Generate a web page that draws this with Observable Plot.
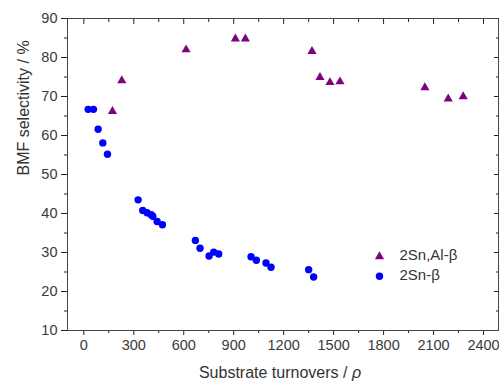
<!DOCTYPE html>
<html><head><meta charset="utf-8">
<script src="https://cdn.jsdelivr.net/npm/d3@7"></script>
<script src="https://cdn.jsdelivr.net/npm/@observablehq/plot@0.6"></script>
<style>body{margin:0;background:#fff}#chart svg{display:block}</style>
</head><body><div id="chart"></div>
<script>
// 2Sn,Al-β (triangles)
const alX = [172, 228, 614, 910, 970, 1370, 1418, 1478, 1538, 2048, 2188, 2278];
const alY = [66.2, 74.1, 82.0, 84.8, 84.8, 81.6, 74.9, 73.6, 73.8, 72.3, 69.4, 70.0];
// 2Sn-β (circles)
const snX = [26, 58, 86, 114, 142, 326, 354, 380, 404, 414, 440, 472, 670, 698, 752, 780, 810, 1004, 1036, 1094, 1124, 1350, 1380];
const snY = [66.7, 66.7, 61.6, 58.1, 55.2, 43.5, 40.8, 40.2, 39.7, 39.3, 37.95, 37.1, 33.1, 31.1, 29.1, 30.1, 29.6, 28.9, 28.0, 27.3, 26.2, 25.6, 23.7];
const seriesNames = ["2Sn,Al-β", "2Sn-β"];
const xTicks = [0, 300, 600, 900, 1200, 1500, 1800, 2100, 2400];
const xMinor = [150, 450, 750, 1050, 1350, 1650, 1950, 2250];
const yTicks = [10, 20, 30, 40, 50, 60, 70, 80, 90];
const yMinor = [15, 25, 35, 45, 55, 65, 75, 85];
const xLabel = "Substrate turnovers / ρ";
const yLabel = "BMF selectivity / %";

const al = alX.map((x, i) => ({x, y: alY[i]}));
const sn = snX.map((x, i) => ({x, y: snY[i]}));
const purple = "#800080", blue = "#0000ff";
const blank = () => "";

const chart = Plot.plot({
  width: 499, height: 381,
  marginLeft: 67, marginRight: 1, marginTop: 18, marginBottom: 51,
  style: {fontFamily: "'Liberation Sans', Arial, sans-serif", fontSize: "14.5px", color: "#3a3a3a", background: "#fff"},
  x: {domain: [-98, 2490]},
  y: {domain: [10, 90]},
  marks: [
    // bottom axis
    Plot.axisX({ticks: xTicks, tickSize: 5, tickPadding: 4, tickFormat: d3.format("d"), label: null, stroke: "#222"}),
    Plot.axisX({ticks: xMinor, tickSize: 3, tickFormat: blank, label: null, stroke: "#222"}),
    // top axis (inward)
    Plot.axisX({anchor: "top", ticks: xTicks, tickSize: 5, dy: 5, tickFormat: blank, label: null, stroke: "#222"}),
    Plot.axisX({anchor: "top", ticks: xMinor, tickSize: 3, dy: 3, tickFormat: blank, label: null, stroke: "#222"}),
    // left axis
    Plot.axisY({ticks: yTicks, tickSize: 6, tickPadding: 4, tickFormat: d3.format("d"), label: null, stroke: "#222"}),
    Plot.axisY({ticks: yMinor, tickSize: 3, tickFormat: blank, label: null, stroke: "#222"}),
    // right axis (inward)
    Plot.axisY({anchor: "right", ticks: yTicks, tickSize: 5, dx: -5, tickFormat: blank, label: null, stroke: "#222"}),
    Plot.axisY({anchor: "right", ticks: yMinor, tickSize: 3, dx: -3, tickFormat: blank, label: null, stroke: "#222"}),
    Plot.frame({stroke: "#444"}),
    Plot.dot(sn, {x: "x", y: "y", r: 3.7, fill: blue, stroke: "none"}),
    Plot.dot(al, {x: "x", y: "y", r: 3.4, symbol: "triangle", fill: purple, stroke: "none"}),
    // legend
    Plot.dot([seriesNames[0]], {x: null, y: null, frameAnchor: "top-left", dx: 312, dy: 238, r: 3.4, symbol: "triangle", fill: purple, stroke: "none"}),
    Plot.dot([seriesNames[1]], {x: null, y: null, frameAnchor: "top-left", dx: 312, dy: 257.7, r: 3.7, fill: blue, stroke: "none"}),
    Plot.text([seriesNames[0]], {x: null, y: null, text: d => d, frameAnchor: "top-left", dx: 332, dy: 237, textAnchor: "start", lineAnchor: "middle", fontSize: 15, fill: "#333"}),
    Plot.text([seriesNames[1]], {x: null, y: null, text: d => d, frameAnchor: "top-left", dx: 332, dy: 257, textAnchor: "start", lineAnchor: "middle", fontSize: 15, fill: "#333"}),
    // axis titles
    Plot.text([xLabel], {x: null, y: null, text: d => d, frameAnchor: "bottom", dy: 42, dx: -3, lineAnchor: "middle", fontSize: 16, fill: "#333", className: "xlabel"}),
    Plot.text([yLabel], {x: null, y: null, text: d => d, frameAnchor: "left", dx: -44, dy: 1, rotate: -90, lineAnchor: "middle", fontSize: 16, fill: "#333"})
  ]
});
document.getElementById("chart").appendChild(chart);
// italicise the ρ symbol in the x-axis title
chart.querySelectorAll("text").forEach(t => {
  if (t.textContent === xLabel) {
    const base = xLabel.slice(0, -1);
    t.textContent = base;
    const ts = document.createElementNS("http://www.w3.org/2000/svg", "tspan");
    ts.setAttribute("font-style", "italic");
    ts.textContent = xLabel.slice(-1);
    t.appendChild(ts);
  }
});
</script>
</body></html>
